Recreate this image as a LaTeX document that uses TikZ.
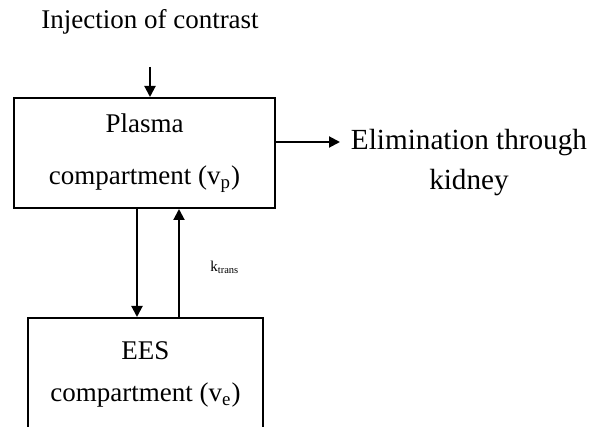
\documentclass[tikz,border=0pt]{standalone}
\usepackage{fontspec}
\setmainfont{Liberation Serif}
\usepackage{tikz}
\usetikzlibrary{arrows.meta,positioning}

\begin{document}
\begin{tikzpicture}[
    x=0.5pt, y=-0.5pt,
    font=\fontsize{13.5}{22}\selectfont,
    comp/.style={rectangle, draw=black, line width=1pt, align=center, inner sep=0pt},
    arrow/.style={-{Triangle[length=5.5pt,width=5.5pt]}, line width=1pt, draw=black},
    lbl/.style={font=\fontsize{7.5}{9}\selectfont, inner sep=1pt}
]
\useasboundingbox (0,0) rectangle (590,427);

\node[comp, minimum width=130.5pt, minimum height=55pt] (plasma) at (144.5,153) {Plasma\\[4pt]compartment (v\textsubscript{p})};
\node[comp, minimum width=117.5pt, minimum height=56pt] (ees) at (145.5,374) {EES\\[-1pt]compartment (v\textsubscript{e})};
\node (inj) at (150,22) {Injection of contrast};
\node[align=center, inner sep=0pt, font=\fontsize{14.6}{22}\selectfont] (elim) at (469,163) {Elimination through\\[-2pt]kidney};
\node[lbl, anchor=west] (ktr) at (208,267) {k\textsubscript{trans}};

\coordinate (injstart) at (150,67);
\coordinate (elimtip) at (340,142);
\coordinate (dn) at (137,0);
\coordinate (up) at (179,0);

\draw[arrow] (injstart) -- (injstart |- plasma.north);
\draw[arrow] (plasma.east |- elimtip) -- (elimtip);
\draw[arrow] (plasma.south -| dn) -- (ees.north -| dn);
\draw[arrow] (ees.north -| up) -- (plasma.south -| up);

\end{tikzpicture}
\end{document}
